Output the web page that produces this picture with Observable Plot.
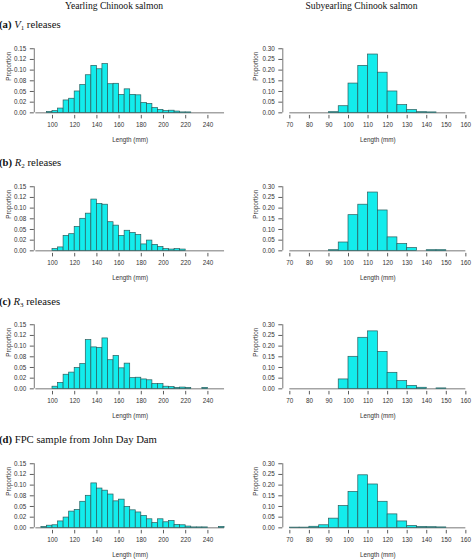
<!DOCTYPE html>
<html>
<head>
<meta charset="utf-8">
<script src="https://cdn.jsdelivr.net/npm/d3@7"></script>
<script src="https://cdn.jsdelivr.net/npm/@observablehq/plot@0.6"></script>
<style>
  body { margin: 0; background: #fff; }
  #fig { position: relative; width: 474px; height: 560px; overflow: hidden; background: #fff; }
  .serif { position: absolute; font-family: "Liberation Serif", "Times New Roman", serif; line-height: 1; white-space: nowrap; color: #111; }
  .coltitle { font-size: 9.6px; transform: translateX(-50%); }
  .rowlabel { font-size: 10.7px; left: -1px; }
  .rowlabel sub { font-size: 7px; vertical-align: -1.5px; line-height: 0; }
</style>
</head>
<body>
<div id="fig"></div>
<script>
// bin lower edges (5 mm bins)
const yearlingBins = [85, 90, 95, 100, 105, 110, 115, 120, 125, 130, 135, 140, 145, 150, 155, 160, 165,
  170, 175, 180, 185, 190, 195, 200, 205, 210, 215, 220, 225, 230, 235, 240, 245, 250];
const subyearlingBins = [70, 75, 80, 85, 90, 95, 100, 105, 110, 115, 120, 125, 130, 135, 140, 145, 150, 155];
const binWidth = 5;

// proportions
const yearlingV1 = [0, 0, 0.002, 0.004, 0.010, 0.029, 0.033, 0.050, 0.065, 0.088, 0.110, 0.102, 0.114, 0.067,
  0.068, 0.042, 0.055, 0.042, 0.041, 0.023, 0.021, 0.011, 0.007, 0.004, 0.005, 0.003, 0.001, 0.001, 0, 0, 0, 0, 0, 0];
const yearlingR2 = [0, 0, 0, 0.004, 0.008, 0.035, 0.039, 0.056, 0.075, 0.087, 0.120, 0.110, 0.108, 0.067,
  0.059, 0.035, 0.047, 0.042, 0.037, 0.015, 0.024, 0.014, 0.009, 0.004, 0.003, 0.004, 0.003, 0, 0, 0, 0, 0, 0, 0];
const yearlingR3 = [0, 0, 0, 0.005, 0.014, 0.033, 0.038, 0.049, 0.058, 0.114, 0.097, 0.096, 0.118, 0.067,
  0.077, 0.048, 0.059, 0.025, 0.026, 0.022, 0.020, 0.011, 0.011, 0.005, 0.004, 0.002, 0.003, 0.002, 0, 0, 0.002, 0, 0, 0];
const yearlingFPC = [0, 0.002, 0.005, 0.006, 0.015, 0.024, 0.038, 0.042, 0.061, 0.075, 0.104, 0.092, 0.087, 0.078,
  0.062, 0.066, 0.049, 0.041, 0.036, 0.028, 0.020, 0.011, 0.020, 0.013, 0.016, 0.007, 0.006, 0.003, 0.001, 0.001, 0.001, 0, 0, 0.002];

const subyearlingV1 = [0, 0, 0, 0, 0.003, 0.031, 0.137, 0.220, 0.273, 0.188, 0.100, 0.036, 0.013, 0.003, 0.002, 0, 0, 0];
const subyearlingR2 = [0, 0, 0, 0, 0.003, 0.039, 0.167, 0.216, 0.273, 0.189, 0.063, 0.032, 0.013, 0, 0.003, 0.003, 0, 0];
const subyearlingR3 = [0, 0, 0, 0, 0, 0.044, 0.150, 0.239, 0.269, 0.173, 0.075, 0.036, 0.014, 0.005, 0, 0.002, 0, 0];
const subyearlingFPC = [0.001, 0.001, 0.005, 0.012, 0.043, 0.102, 0.168, 0.246, 0.203, 0.122, 0.063, 0.030, 0.009, 0.004, 0.003, 0.002, 0, 0];

// axis ticks
const yearlingXTicks = [100, 120, 140, 160, 180, 200, 220, 240];
const subyearlingXTicks = [70, 80, 90, 100, 110, 120, 130, 140, 150, 160];
const yearlingYTicks = [0, 0.025, 0.05, 0.075, 0.1, 0.125, 0.15];
const yearlingYLabels = ["0.00", "0.02", "0.05", "0.08", "0.10", "0.12", "0.15"];
const subyearlingYTicks = [0, 0.05, 0.1, 0.15, 0.2, 0.25, 0.3];
const subyearlingYLabels = ["0.00", "0.05", "0.10", "0.15", "0.20", "0.25", "0.30"];

const columnTitles = ["Yearling Chinook salmon", "Subyearling Chinook salmon"];
const rowTags = ["(a)", "(b)", "(c)", "(d)"];
const rowSymbols = ["V", "R", "R", ""];
const rowSubscripts = ["1", "2", "3", ""];
const rowTexts = ["releases", "releases", "releases", "FPC sample from John Day Dam"];

const yearlingSeries = [yearlingV1, yearlingR2, yearlingR3, yearlingFPC];
const subyearlingSeries = [subyearlingV1, subyearlingR2, subyearlingR3, subyearlingFPC];

const CYAN = "#13ecec";
const EDGE = "#2a5c5c";
const ROW_STEP = 138.2;

// R-style axis range: limits padded by 4%
const pad = (lo, hi, f = 0.04) => [lo - f * (hi - lo), hi + f * (hi - lo)];

function histPanel(bins, values, xTicks, yTicks, yLabels, o) {
  const rows = bins.map((b, i) => ({lo: b, hi: b + binWidth, p: values[i]}));
  const yMax = yTicks[yTicks.length - 1];
  return Plot.plot({
    width: 237,
    height: 112,
    marginTop: 9.7,
    marginBottom: 33.1,
    marginLeft: o.ml,
    marginRight: o.mr,
    style: {background: "transparent", overflow: "visible", fontFamily: "Liberation Sans, Arial, sans-serif", fontSize: "6.3px", color: "#333"},
    x: {domain: o.xDomain, axis: null},
    y: {domain: pad(0, yMax), axis: null},
    marks: [
      Plot.ruleY([0], {x1: bins[0], x2: bins[bins.length - 1] + binWidth, stroke: "#555", strokeWidth: 0.8}),
      Plot.rect(rows, {x1: "lo", x2: "hi", y1: 0, y2: "p", fill: CYAN, stroke: EDGE, strokeWidth: 0.7}),
      Plot.ruleX([o.xDomain[0]], {y1: 0, y2: yMax, stroke: "#555", strokeWidth: 0.8}),
      Plot.axisY(yTicks, {anchor: "left", label: null, tickSize: 4, tickPadding: 4, strokeWidth: 0.8,
        tickFormat: d => yLabels[yTicks.indexOf(d)], fontSize: 6.3}),
      Plot.axisX(xTicks, {anchor: "bottom", label: null, tickSize: 3.5, tickPadding: 3.5, strokeWidth: 0.8,
        tickFormat: d => String(d), fontSize: 6.3}),
      Plot.text(["Length (mm)"], {frameAnchor: "bottom", dy: 26.8, fontSize: 6.3}),
      Plot.text(["Proportion"], {frameAnchor: "left", dx: o.propDx, rotate: -90, fontSize: 6.3})
    ]
  });
}

const fig = document.getElementById("fig");

function addText(cls, html, left, top) {
  const d = document.createElement("div");
  d.className = "serif " + cls;
  d.innerHTML = html;
  if (left != null) d.style.left = left + "px";
  d.style.top = top + "px";
  fig.append(d);
}

addText("coltitle", columnTitles[0], 114, 0.6);
addText("coltitle", columnTitles[1], 361.5, 0.6);

rowTags.forEach((tag, r) => {
  const top = r * ROW_STEP;
  const sym = rowSymbols[r] ? `<i>${rowSymbols[r]}</i><sub>${rowSubscripts[r]}</sub> ` : "";
  addText("rowlabel", `<b>${tag}</b> ${sym}${rowTexts[r]}`, null, top + 19.2);

  const left = histPanel(yearlingBins, yearlingSeries[r], yearlingXTicks, yearlingYTicks, yearlingYLabels,
    {ml: 33.8, mr: 11.4, xDomain: pad(90, 250), propDx: -25.5});
  const right = histPanel(subyearlingBins, subyearlingSeries[r], subyearlingXTicks, subyearlingYTicks, subyearlingYLabels,
    {ml: 45.3, mr: 1.6, xDomain: pad(70, 160), propDx: -27});
  [[left, 0], [right, 237]].forEach(([svg, x]) => {
    svg.style.position = "absolute";
    svg.style.left = x + "px";
    svg.style.top = (top + 36) + "px";
    fig.append(svg);
  });
});
</script>
</body>
</html>
